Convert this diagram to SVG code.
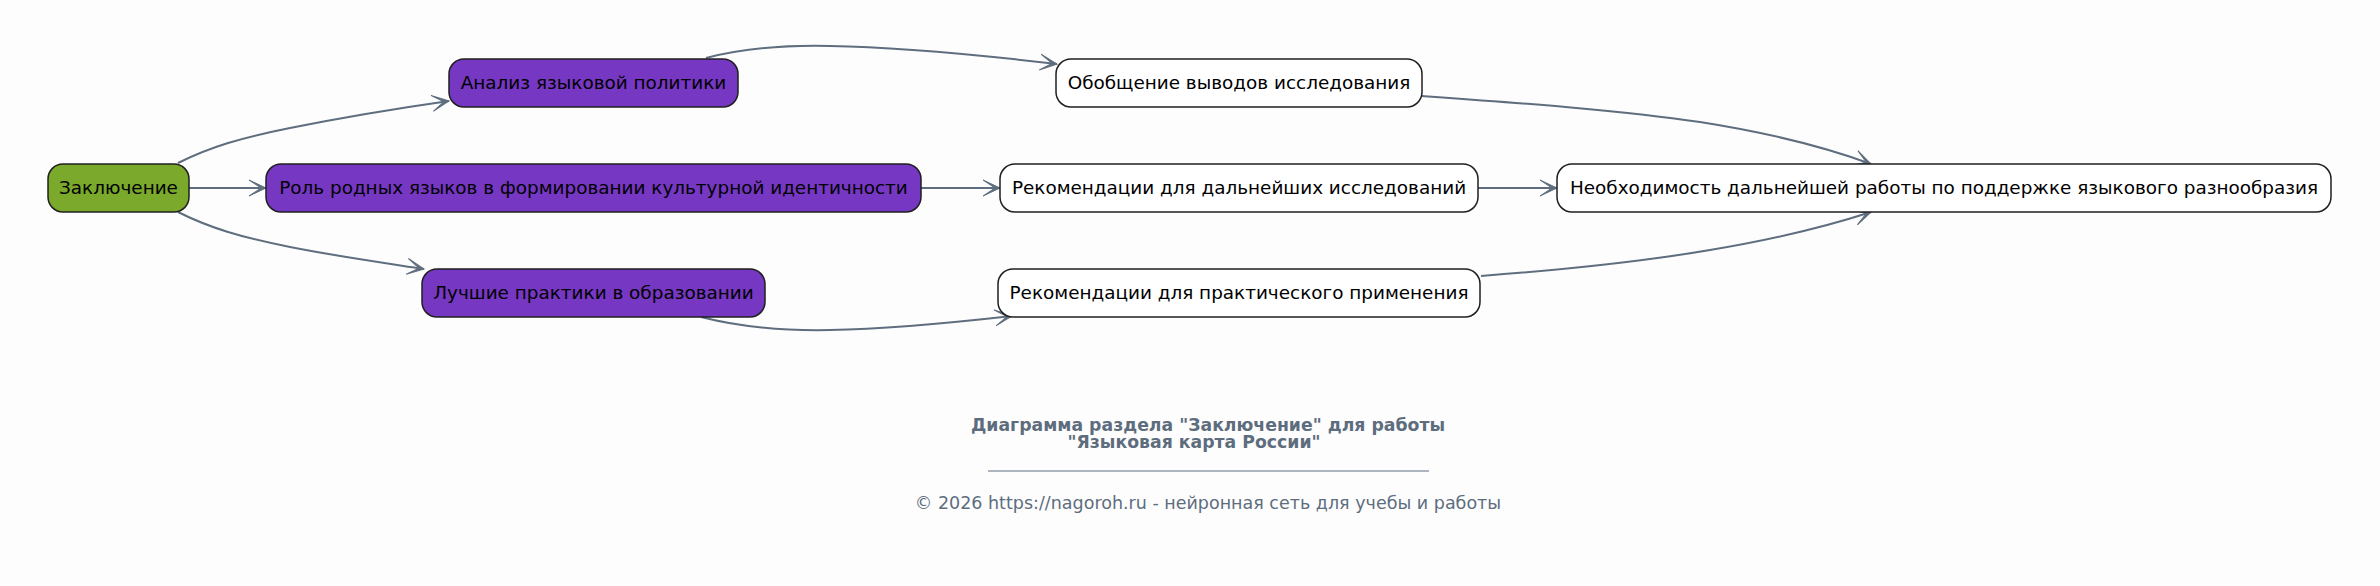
<svg xmlns="http://www.w3.org/2000/svg" width="2380" height="586" viewBox="0 0 2380 586">
<defs>
<style>
.node rect{stroke:#1f1f1f;stroke-width:1.5}
.green rect{fill:#7aa92b}
.purple rect{fill:#7637c3}
.white rect{fill:#ffffff}
.node text{font-family:"DejaVu Sans",sans-serif;font-size:18.4px;fill:#000;text-anchor:middle}
.edges path{fill:none;stroke:#5f6e7e;stroke-width:2;marker-end:url(#vee)}
.title{font-family:"DejaVu Sans",sans-serif;font-size:17.3px;font-weight:bold;fill:#5d6d7e;text-anchor:middle}
.copy{font-family:"DejaVu Sans",sans-serif;font-size:17.5px;fill:#5d6d7e;text-anchor:middle}
</style>
<marker id="vee" viewBox="0 0 18 18" refX="17" refY="9" markerWidth="18" markerHeight="18" markerUnits="userSpaceOnUse" orient="auto">
<path d="M0,1 L17,9 L0,17 L12,9 z" fill="#5f6e7e" stroke="#5f6e7e" stroke-width="1" stroke-linejoin="miter"/>
</marker>
</defs>
<rect width="2380" height="586" fill="#fdfdfd"/>
<g id="connectors" class="edges">
<path d="M178,163 C210,147 240,138 290,128 C340,118 400,108 449,101"/>
<path d="M189,188 L266,188"/>
<path d="M178,212 C210,228 240,237 290,247 C335,256 385,263 424,269"/>
<path d="M706,58 C745,48 790,45 830,46 C900,47 980,55 1057,64"/>
<path d="M921,188 L1000,188"/>
<path d="M701,317 C740,327 780,331 830,330 C890,329 950,323 1012,316"/>
<path d="M1478,188 L1557,188"/>
<path d="M1422,96 C1520,103 1620,110 1700,122 C1770,133 1825,147 1871,164"/>
<path d="M1481,276 C1560,270 1640,262 1710,250 C1770,240 1825,227 1871,212"/>
</g>
<g id="n_conclusion" class="node green"><rect x="48" y="164" width="141" height="48" rx="15"/><text x="118.5" y="193.5">Заключение</text></g>
<g id="n_analysis" class="node purple"><rect x="449" y="59" width="289" height="48" rx="15"/><text x="593.5" y="88.5">Анализ языковой политики</text></g>
<g id="n_role" class="node purple"><rect x="266" y="164" width="655" height="48" rx="15"/><text x="593.5" y="193.5">Роль родных языков в формировании культурной идентичности</text></g>
<g id="n_practices" class="node purple"><rect x="422" y="269" width="343" height="48" rx="15"/><text x="593.5" y="298.5">Лучшие практики в образовании</text></g>
<g id="n_summary" class="node white"><rect x="1056" y="59" width="366" height="48" rx="15"/><text x="1239" y="88.5">Обобщение выводов исследования</text></g>
<g id="n_further" class="node white"><rect x="1000" y="164" width="478" height="48" rx="15"/><text x="1239" y="193.5">Рекомендации для дальнейших исследований</text></g>
<g id="n_practical" class="node white"><rect x="998" y="269" width="482" height="48" rx="15"/><text x="1239" y="298.5">Рекомендации для практического применения</text></g>
<g id="n_need" class="node white"><rect x="1557" y="164" width="774" height="48" rx="15"/><text x="1944" y="193.5">Необходимость дальнейшей работы по поддержке языкового разнообразия</text></g>
<g id="footer">
<text class="title" x="1208" y="430.5">Диаграмма раздела "Заключение" для работы</text>
<text class="title" x="1194" y="447.5">"Языковая карта России"</text>
<line x1="988" y1="471" x2="1429" y2="471" stroke="#5d6d7e" stroke-width="1"/>
<text class="copy" x="1208" y="508.5">© 2026 https://nagoroh.ru - нейронная сеть для учебы и работы</text>
</g>
</svg>
